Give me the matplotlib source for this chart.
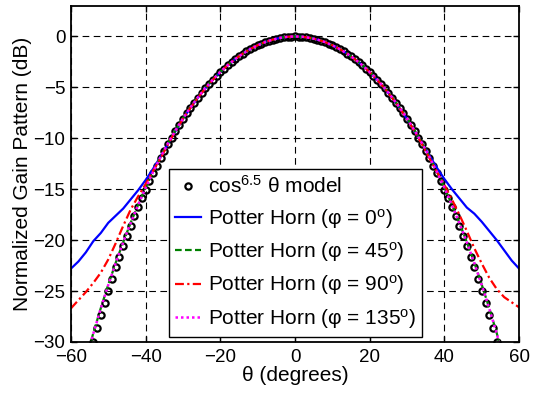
import matplotlib
matplotlib.use("Agg")
import matplotlib.pyplot as plt
import numpy as np

plt.rcParams["font.family"] = ["Liberation Sans", "DejaVu Sans"]
plt.rcParams["mathtext.fontset"] = "custom"
plt.rcParams["mathtext.rm"] = "Liberation Sans"
plt.rcParams["mathtext.it"] = "Liberation Sans:italic"

# cos^6.5 model markers, theta -54..54 deg (1 deg step)
model_theta = list(range(-54, 55))
model_half = [0.0, -0.009, -0.034, -0.078, -0.138, -0.216, -0.310, -0.422, -0.552, -0.699,
              -0.864, -1.047, -1.247, -1.466, -1.702, -1.957, -2.231, -2.523, -2.833, -3.163,
              -3.512, -3.880, -4.268, -4.677, -5.105, -5.554, -6.024, -6.515, -7.028, -7.564,
              -8.121, -8.702, -9.306, -9.934, -10.586, -11.263, -11.967, -12.696, -13.452, -14.236,
              -15.047, -15.889, -16.761, -17.664, -18.599, -19.567, -20.570, -21.608, -22.684, -23.798,
              -24.951, -26.147, -27.386, -28.669, -30.001]
model_db = model_half[:0:-1] + model_half

# Potter horn cuts, theta -60..60 deg (2 deg step)
horn_theta = list(range(-60, 61, 2))
phi0_db = [-22.8, -22.1, -21.2, -20.1, -19.3, -18.3, -17.6, -16.9, -16.0, -15.1,
           -14.1, -13.0, -11.8, -10.55, -9.3, -8.1, -7.02, -6.02, -5.10, -4.26,
           -3.50, -2.82, -2.22, -1.69, -1.24, -0.86, -0.55, -0.31, -0.14, -0.03,
           0.0,
           -0.03, -0.14, -0.31, -0.55, -0.86, -1.24, -1.70, -2.23, -2.83, -3.51,
           -4.27, -5.11, -6.03, -7.03, -8.11, -9.28, -10.5, -11.7, -12.9, -14.0,
           -15.0, -15.9, -16.8, -17.4, -18.2, -19.1, -20.0, -21.0, -22.0, -22.8]
phi90_db = [-26.7, -25.9, -25.1, -24.2, -23.2, -21.9, -20.3, -18.6, -17.0, -15.7,
            -14.5, -13.2, -11.95, -10.58, -9.3, -8.1, -7.02, -6.02, -5.10, -4.26,
            -3.50, -2.82, -2.22, -1.69, -1.24, -0.86, -0.55, -0.31, -0.14, -0.03,
            0.0,
            -0.03, -0.14, -0.31, -0.55, -0.86, -1.24, -1.70, -2.23, -2.83, -3.51,
            -4.27, -5.11, -6.03, -7.03, -8.11, -9.3, -10.58, -11.95, -13.3, -14.6,
            -16.0, -17.5, -19.1, -20.8, -22.3, -23.7, -24.8, -25.6, -26.1, -26.6]

# theta -56..56 deg (2 deg step)
diag_theta = list(range(-56, 57, 2))
phi45_db = [-31.74, -29.13, -26.68, -24.38, -22.22, -20.20, -18.30, -16.52, -14.85, -13.29,
            -11.83, -10.47, -9.21, -8.04, -6.96, -5.97, -5.06, -4.23, -3.48, -2.81,
            -2.21, -1.69, -1.24, -0.86, -0.55, -0.31, -0.14, -0.03,
            0.0,
            -0.03, -0.14, -0.31, -0.55, -0.86, -1.24, -1.69, -2.21, -2.81, -3.48,
            -4.23, -5.06, -5.97, -6.96, -8.04, -9.21, -10.47, -11.83, -13.29, -14.85,
            -16.52, -18.30, -20.20, -22.22, -24.38, -26.68, -29.13, -31.74]
phi135_db = [-31.80, -29.18, -26.72, -24.41, -22.25, -20.22, -18.32, -16.54, -14.87, -13.31,
             -11.85, -10.48, -9.22, -8.05, -6.97, -5.98, -5.07, -4.24, -3.49, -2.82,
             -2.22, -1.70, -1.25, -0.87, -0.55, -0.31, -0.14, -0.03,
             0.0,
             -0.03, -0.14, -0.31, -0.55, -0.87, -1.25, -1.70, -2.22, -2.82, -3.49,
             -4.24, -5.07, -5.98, -6.97, -8.05, -9.22, -10.48, -11.85, -13.31, -14.87,
             -16.54, -18.32, -20.22, -22.25, -24.41, -26.72, -29.18, -31.80]

fig = plt.figure(figsize=(5.33, 3.94), dpi=100)
ax = fig.add_axes([0.133, 0.132, 0.841, 0.853])

ax.plot(model_theta, model_db, "o", mfc="none", mec="black", ms=4.5, mew=1.6,
        label="cos$^{6.5}$ θ model")
ax.plot(horn_theta, phi0_db, "-", color="#0000ff", lw=1.6,
        label="Potter Horn (φ = 0$^{\\rm o}$)")
ax.plot(diag_theta, phi45_db, "--", color="#008000", lw=1.6, dashes=(3, 1.5),
        label="Potter Horn (φ = 45$^{\\rm o}$)")
ax.plot(horn_theta, phi90_db, "-.", color="#ff0000", lw=1.6, dashes=(4, 1.5, 1, 1.5),
        label="Potter Horn (φ = 90$^{\\rm o}$)")
ax.plot(diag_theta, phi135_db, ":", color="#ff00ff", lw=1.8, dashes=(1, 1.2),
        label="Potter Horn (φ = 135$^{\\rm o}$)")

ax.set_xlim(-60, 60)
ax.set_ylim(-30, 3)
ax.set_xticks(np.arange(-60, 61, 20))
ax.set_yticks(np.arange(-30, 1, 5))
ax.grid(True, color="black", linestyle=(0, (6, 4)), linewidth=0.8)
ax.tick_params(direction="in", top=True, right=True, length=4, width=1, labelsize=13.5)
ax.tick_params(axis="x", pad=5)
ax.tick_params(axis="y", pad=4)
for s in ax.spines.values():
    s.set_linewidth(1.3)

ax.set_xlabel("θ (degrees)", fontsize=15, labelpad=0)
ax.set_ylabel("Normalized Gain Pattern (dB)", fontsize=15, labelpad=1)

leg = ax.legend(loc="lower left", bbox_to_anchor=(0.219, 0.015), borderaxespad=0,
                fontsize=15, numpoints=1, handlelength=1.25, handletextpad=0.3,
                labelspacing=0.45, borderpad=0.3, fancybox=False, framealpha=1,
                edgecolor="black")
leg.get_frame().set_linewidth(1.0)

fig.savefig("out.png", dpi=100)
